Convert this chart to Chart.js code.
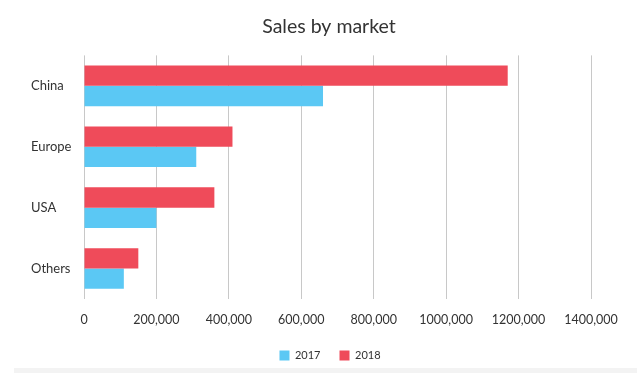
<!DOCTYPE html>
<html>
<head>
<meta charset="utf-8">
<script src="https://cdn.jsdelivr.net/npm/chart.js@4"></script>
<style>
    html, body { margin: 0; padding: 0; background: #fff; }
    #wrap { position: relative; width: 637px; height: 373px; }
    #strip { position: absolute; left: 14px; right: 0; bottom: 0; height: 5px; background: #f3f3f3; }
</style>
</head>
<body>
<div id="wrap">
    <canvas id="chart-sales" width="637" height="373"></canvas>
    <div id="strip"></div>
</div>
<script>
const markets = ["China", "Europe", "USA", "Others"];
const sales2017 = [660000, 310000, 200000, 110000];
const sales2018 = [1170000, 410000, 360000, 150000];
const tickLabels = ["0", "200,000", "400,000", "600,000", "800,000", "1000,000", "1200,000", "1400,000"];

const sales = document.getElementById("chart-sales");

// title and legend sit a little right of the canvas centre in the original
const shiftBlocks = {
    id: "shiftBlocks",
    afterLayout(chart) {
        chart.titleBlock.left += 18;
        chart.titleBlock.right += 18;
        chart.legend.left += 19;
        chart.legend.right += 19;
    },
};

const dataSales = {
    labels: markets,
    datasets: [
        {
            label: "2018",
            data: sales2018,
            backgroundColor: "#ef4b5a",
        },
        {
            label: "2017",
            data: sales2017,
            backgroundColor: "#5bc8f4",
        },
    ],
};

const configSales = {
    type: "bar",
    data: dataSales,
    plugins: [shiftBlocks],
    options: {
        indexAxis: "y",
        responsive: false,
        animation: false,
        categoryPercentage: 0.667,
        barPercentage: 1,
        layout: {
            padding: { left: 31, right: 46, top: 10, bottom: 2 },
        },
        plugins: {
            title: {
                display: true,
                text: "Sales by market",
                color: "#333",
                font: { family: "Lato", size: 19.5, weight: "normal" },
                padding: { top: 5, bottom: 17 },
            },
            legend: {
                position: "bottom",
                reverse: true,
                labels: {
                    boxWidth: 10,
                    boxHeight: 10,
                    color: "#333",
                    font: { family: "Lato", size: 11 },
                    padding: 19,
                },
            },
            tooltip: { enabled: false },
        },
        scales: {
            x: {
                min: 0,
                max: 1400000,
                afterFit: (scale) => { scale.height -= 9; },
                ticks: {
                    stepSize: 200000,
                    color: "#333",
                    font: { family: "Lato", size: 12.5 },
                    padding: 13,
                    maxRotation: 0,
                    callback: (value, i) => tickLabels[i],
                },
                grid: { color: "#c8c8c8", drawTicks: false },
                border: { display: false },
            },
            y: {
                afterFit: (scale) => { scale.width = 53; },
                ticks: {
                    crossAlign: "far",
                    color: "#333",
                    font: { family: "Lato", size: 13 },
                },
                grid: { display: false },
                border: { display: false },
            },
        },
    },
};

new Chart(sales, configSales);
</script>
</body>
</html>
